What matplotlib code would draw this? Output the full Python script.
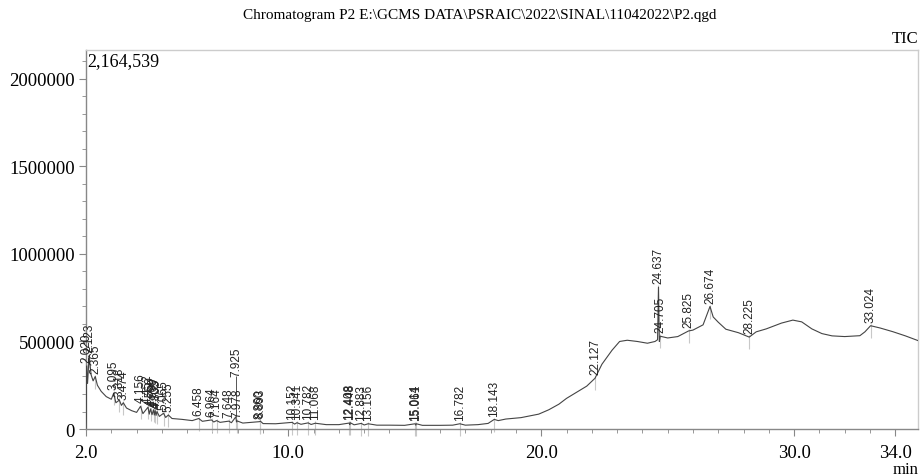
#!/usr/bin/env python3
# plot.py
"""
TIC chromatogram of sample P2 (GCMS), redrawn with matplotlib
"""

import numpy as np
import matplotlib as mpl
mpl.use('Agg')
import matplotlib.pyplot as plt
from matplotlib.ticker import MultipleLocator, FixedLocator

# retention time (min) and intensity of the trace
trace_t = [2.000, 2.010, 2.020, 2.060, 2.123, 2.200, 2.280, 2.365, 2.450, 2.600,
           2.800, 3.000, 3.095, 3.180, 3.318, 3.400, 3.474, 3.600, 3.800, 4.000,
           4.156, 4.250, 4.452, 4.500, 4.550, 4.610, 4.669, 4.700, 4.735, 4.770,
           4.805, 4.900, 5.065, 5.150, 5.255, 5.400, 5.800, 6.200, 6.458, 6.600,
           6.964, 7.050, 7.164, 7.300, 7.648, 7.750, 7.925, 7.950, 7.978, 8.200,
           8.860, 8.893, 9.000, 9.500, 10.152, 10.250, 10.341, 10.500, 10.782, 10.900,
           11.068, 11.500, 12.000, 12.408, 12.430, 12.448, 12.600, 12.883, 13.000, 13.156,
           13.500, 14.000, 14.600, 15.014, 15.040, 15.061, 15.300, 16.000, 16.500, 16.782,
           17.000, 17.500, 17.900, 18.143, 18.300, 18.600, 19.200, 19.900, 20.300, 20.700,
           21.000, 21.400, 21.800, 22.127, 22.400, 22.800, 23.100, 23.400, 23.800, 24.200,
           24.500, 24.600, 24.637, 24.670, 24.705, 25.000, 25.400, 25.825, 26.000, 26.400,
           26.674, 26.800, 27.000, 27.300, 27.800, 28.225, 28.500, 28.900, 29.500, 29.950,
           30.300, 30.700, 31.100, 31.500, 32.000, 32.600, 32.800, 33.024, 33.400, 33.900,
           34.400, 34.900]
trace_i = [5000, 60000, 360000, 260000, 420000, 310000, 275000, 300000, 250000, 215000,
           185000, 170000, 205000, 150000, 165000, 135000, 150000, 120000, 105000, 95000,
           130000, 88000, 125000, 85000, 115000, 82000, 110000, 80000, 105000, 78000,
           100000, 72000, 90000, 66000, 80000, 60000, 55000, 48000, 60000, 44000,
           52000, 40000, 48000, 38000, 45000, 36000, 70000, 40000, 46000, 34000,
           42000, 45000, 31000, 30000, 38000, 28000, 36000, 27000, 35000, 26000,
           33000, 25000, 25000, 34000, 25000, 36000, 24000, 32000, 23000, 30000,
           22000, 22000, 21000, 30000, 22000, 30000, 21000, 21000, 22000, 30000,
           22000, 25000, 32000, 55000, 48000, 57000, 65000, 85000, 110000, 142000,
           175000, 210000, 245000, 290000, 370000, 450000, 500000, 507000, 500000, 490000,
           500000, 510000, 810000, 500000, 530000, 520000, 528000, 560000, 565000, 595000,
           700000, 640000, 610000, 570000, 550000, 525000, 555000, 572000, 605000, 622000,
           612000, 572000, 545000, 532000, 528000, 533000, 555000, 590000, 577000, 556000,
           532000, 505000]

# detected peaks (retention times that get a label)
peak_t = [2.020, 2.123, 2.365, 3.095, 3.318, 3.474, 4.156, 4.452, 4.550, 4.669,
          4.735, 4.805, 5.065, 5.255, 6.458, 6.964, 7.164, 7.648, 7.925, 7.978,
          8.860, 8.893, 10.152, 10.341, 10.782, 11.068, 12.408, 12.448, 12.883, 13.156,
          15.014, 15.061, 16.782, 18.143, 22.127, 24.637, 24.705, 25.825, 26.674, 28.225,
          33.024]
# labels pushed up on a leader line in the original
raised = {7.925: 300000}

title = r'Chromatogram P2 E:\GCMS DATA\PSRAIC\2022\SINAL\11042022\P2.qgd'
y_max = 2164539
x_lim = (2.0, 34.9)
x_ticks = [2.0, 10.0, 20.0, 30.0, 34.0]
y_ticks = [0, 500000, 1000000, 1500000, 2000000]

serif = ['Liberation Serif', 'DejaVu Serif']
plt.rcParams['font.family'] = serif

fig = plt.figure(figsize=(9.22, 4.77), dpi=100)
ax = fig.add_axes([0.0933, 0.0985, 0.9024, 0.7945])

# trace
ax.plot(trace_t, trace_i, color='#444444', lw=0.8, zorder=3)

# peak marks and labels
for t in peak_t:
	h = trace_i[trace_t.index(t)]
	ax.vlines(t, h - 70000, h + 10000, color='#c8c8c8', lw=0.8, zorder=2, clip_on=False)
	y_lab = h + 22000
	if t in raised:
		y_lab = raised[t]
		ax.vlines(t, h, y_lab, color='#555555', lw=0.7, zorder=3)
	ax.text(t, y_lab, '%.3f' % t, rotation=90, ha='center', va='bottom',
		fontsize=8.5, family=['Liberation Sans', 'DejaVu Sans'], color='#222222', zorder=4)

ax.set_xlim(*x_lim)
ax.set_ylim(0, y_max)

ax.xaxis.set_major_locator(FixedLocator(x_ticks))
ax.set_xticklabels(['%.1f' % v for v in x_ticks])
ax.xaxis.set_minor_locator(MultipleLocator(1.0))
ax.yaxis.set_major_locator(FixedLocator(y_ticks))
ax.set_yticklabels(['%d' % v for v in y_ticks])
ax.yaxis.set_minor_locator(MultipleLocator(100000))

ax.tick_params(axis='both', which='major', length=5, width=0.8, color='#888888',
	labelsize=13.5, pad=3)
ax.tick_params(axis='both', which='minor', length=3, width=0.6, color='#888888')
ax.tick_params(axis='x', pad=6)

for side in ['left', 'bottom']:
	ax.spines[side].set_color('#888888')
	ax.spines[side].set_linewidth(1.0)
for side in ['top', 'right']:
	ax.spines[side].set_color('#cccccc')
	ax.spines[side].set_linewidth(1.0)

# texts around the frame
fig.text(0.52, 0.968, title, ha='center', va='center', fontsize=11)
fig.text(0.996, 0.918, 'TIC', ha='right', va='center', fontsize=12)
fig.text(0.996, 0.015, 'min', ha='right', va='center', fontsize=12)
ax.text(0.002, 0.995, '{:,}'.format(y_max), transform=ax.transAxes, ha='left', va='top',
	fontsize=13)

fig.savefig('out.png', dpi=100)
plt.close()
